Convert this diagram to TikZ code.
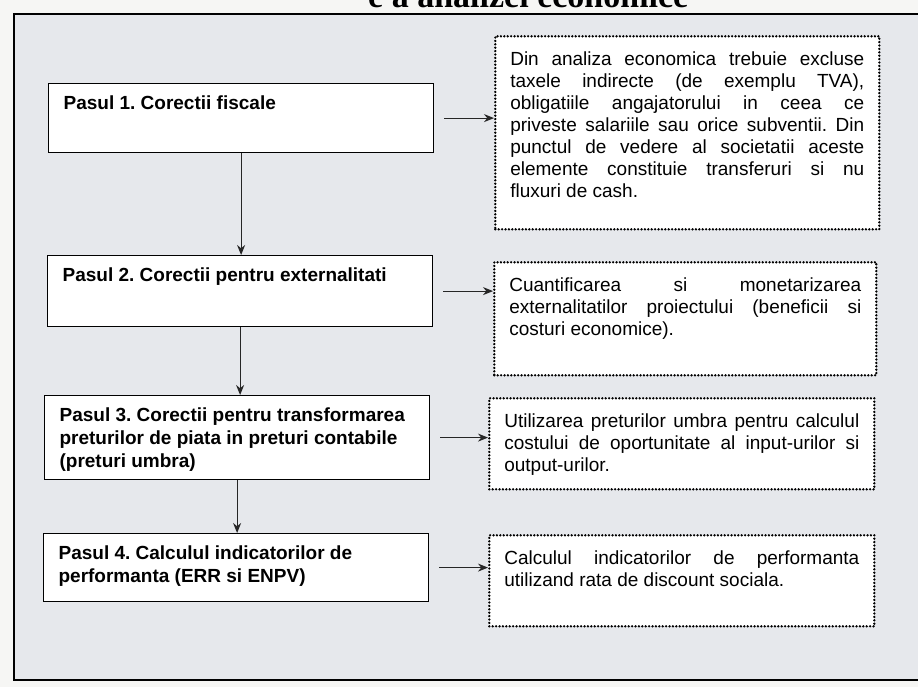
\documentclass[tikz,border=0pt]{standalone}
\usepackage{fontspec}
\setmainfont{Liberation Sans}
\newfontfamily\titlufont{Liberation Serif}
\usetikzlibrary{arrows.meta}
\definecolor{hartie}{RGB}{246,246,244}
\definecolor{panou}{RGB}{230,232,236}
\frenchspacing
\newcommand{\casuta}[3]{\parbox[t][#1][t]{#2}{#3}}
\tikzset{pas node/.style={draw,fill=white,line width=1.2pt,anchor=north west,inner xsep=15pt,inner ysep=12pt,font=\bfseries\fontsize{19}{23}\selectfont},
  nota node/.style={draw,fill=white,line width=2.6pt,dash pattern=on 0pt off 3.4pt,line cap=round,anchor=north west,inner xsep=15pt,inner ysep=15pt,font=\fontsize{19}{22}\selectfont},}
\begin{document}
\begin{tikzpicture}[x=1pt,y=-1pt,->,>={Stealth[length=10pt,width=8pt]}]
    \useasboundingbox (0,0) rectangle (918,687);
    \fill[hartie] (0,0) rectangle (918,687);
    \node[anchor=base west,inner sep=0pt,font=\titlufont\bfseries\fontsize{34}{34}\selectfont] (titlu) at (368,8) {e a analizei economice};
    \draw[-,line width=1.8pt,fill=panou] (14,14) rectangle (940,680);

    \node[pas node] (1) at (48,83) {\casuta{45pt}{355pt}{\raggedright Pasul 1. Corectii fiscale}};
    \node[pas node] (2) at (47,255) {\casuta{47pt}{355pt}{\raggedright Pasul 2. Corectii pentru externalitati}};
    \node[pas node] (3) at (44,395) {\casuta{60pt}{355pt}{\raggedright Pasul 3. Corectii pentru transformarea\\ preturilor de piata in preturi contabile\\ (preturi umbra)}};
    \node[pas node] (4) at (43,533) {\casuta{44pt}{355pt}{\raggedright Pasul 4. Calculul indicatorilor de\\ performanta (ERR si ENPV)}};

    \node[nota node] (d1) at (494,35) {\casuta{163pt}{354pt}{\sloppy Din analiza economica trebuie excluse\linebreak taxele indirecte (de exemplu TVA),\linebreak obligatiile angajatorului in ceea ce\linebreak priveste salariile sau orice subventii. Din\linebreak punctul de vedere al societatii aceste\linebreak elemente constituie transferuri si nu\linebreak fluxuri de cash.}};
    \node[nota node] (d2) at (493,261) {\casuta{83pt}{352pt}{\sloppy Cuantificarea si monetarizarea\linebreak externalitatilor proiectului (beneficii si\linebreak costuri economice).}};
    \node[nota node] (d3) at (488,397) {\casuta{61pt}{355pt}{\sloppy Utilizarea preturilor umbra pentru calculul\linebreak costului de oportunitate al input-urilor si\linebreak output-urilor.}};
    \node[nota node] (d4) at (488,534) {\casuta{61pt}{355pt}{\sloppy Calculul indicatorilor de performanta\linebreak utilizand rata de discount sociala.}};

    \path[line width=1.1pt,black!85]
    (1.south) edge (1.south |- 2.north)
    (2.south) edge (2.south |- 3.north)
    (3.south) edge (3.south |- 4.north)
    (1.east) edge[shorten <=10pt] (1.east -| d1.west)
    (2.east) edge[shorten <=10pt] (2.east -| d2.west)
    (3.east) edge[shorten <=10pt] (3.east -| d3.west)
    (4.east) edge[shorten <=10pt] (4.east -| d4.west);
\end{tikzpicture}
\end{document}
